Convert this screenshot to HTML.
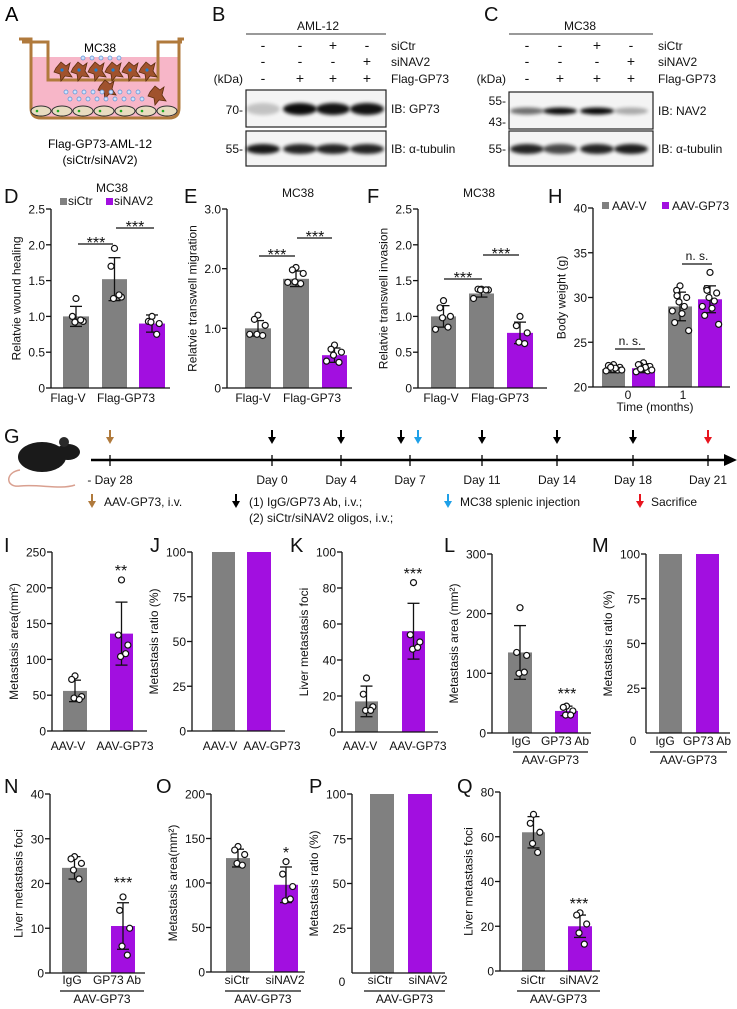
<!DOCTYPE html>
<html><head><meta charset="utf-8">
<style>
html,body{margin:0;padding:0;background:#fff;}
svg{display:block;font-family:"Liberation Sans Narrow","Liberation Sans",sans-serif;}
</style></head>
<body>
<svg id="fig" width="737" height="1009" viewBox="0 0 737 1009" xmlns="http://www.w3.org/2000/svg">
<defs><filter id="blur" x="-30%" y="-100%" width="160%" height="300%"><feGaussianBlur stdDeviation="1.8"/></filter></defs>

<g>
  <text x="5" y="21" font-size="20">A</text>
  <path d="M31,57 L31,108 Q31,118 41,118 L169,118 Q179,118 179,108 L179,57 Z" fill="#f7b6c8"/>
  <path d="M19,39 L31,39 L31,108 Q31,118 41,118 L169,118 Q179,118 179,108 L179,39 L184,39" fill="none" stroke="#b07a3c" stroke-width="3"/>
  <path d="M22,42 L48,42 L48,80 L158,80 L158,42 L182,42" fill="none" stroke="#b07a3c" stroke-width="3"/>
  <text x="100" y="52" font-size="12" text-anchor="middle">MC38</text>
  <g id="cells"></g>
  <text x="100" y="148" font-size="12" text-anchor="middle">Flag-GP73-AML-12</text>
  <text x="100" y="164" font-size="12" text-anchor="middle">(siCtr/siNAV2)</text>
</g>
<g id="blots"></g>
<g id="charts"></g>
<g id="timeline"></g>
</svg>

<script>
const dCats = ["Flag-V", "Flag-GP73"];
const dVals = [1.0, 1.52, 0.9];
const dErr = [0.14, 0.3, 0.12];
const dPts = [[1.25, 1.0, 0.93, 0.92, 0.95], [1.95, 1.7, 1.27, 1.25, 1.3], [1.0, 0.93, 0.9, 0.92, 0.75]];
const dTicks = ["0", "0.5", "1.0", "1.5", "2.0", "2.5"];

const eVals = [1.0, 1.83, 0.55];
const eErr = [0.13, 0.13, 0.12];
const ePts = [[1.22, 1.15, 1.05, 0.9, 0.88, 0.9], [2.02, 1.98, 1.92, 1.78, 1.75, 1.77], [0.72, 0.65, 0.6, 0.55, 0.43, 0.45]];
const eTicks = ["0", "1.0", "2.0", "3.0"];

const fVals = [1.0, 1.32, 0.77];
const fErr = [0.15, 0.05, 0.15];
const fPts = [[1.22, 1.12, 1.0, 0.98, 0.85, 0.82], [1.38, 1.38, 1.37, 1.37, 1.37, 1.25], [1.0, 0.87, 0.77, 0.64, 0.62]];
const fTicks = ["0", "0.5", "1.0", "1.5", "2.0", "2.5"];

const hCats = ["0", "1"];
const hVals = [22.0, 22.1, 29.0, 29.8];
const hErr = [0.4, 0.5, 1.6, 1.5];
const hPts = [
  [22.5, 22.3, 22.2, 22.0, 21.9, 21.8, 22.1, 22.4, 21.9, 22.2],
  [22.7, 22.4, 22.3, 22.1, 21.8, 21.7, 22.2, 22.5, 21.9, 22.0],
  [31.3, 30.8, 30.0, 29.5, 29.0, 28.5, 28.2, 27.2, 26.3, 30.2],
  [32.8, 31.0, 30.5, 30.0, 29.6, 29.0, 28.8, 28.0, 27.0, 30.8]];
const hTicks = ["20", "25", "30", "35", "40"];

const iVals = [56, 136];
const iErr = [15, 44];
const iPts = [[77, 72, 48, 46, 44], [211, 134, 120, 104, 108]];
const iTicks = ["0", "50", "100", "150", "200", "250"];

const ratioVals = [100, 100];
const ratioTicks = ["0", "25", "50", "75", "100"];

const kVals = [17, 56];
const kErr = [8.5, 15.5];
const kPts = [[30, 21, 14, 12, 12], [83, 54, 50, 46, 47]];
const kTicks = ["0", "20", "40", "60", "80", "100"];

const lVals = [135, 37];
const lErr = [45, 8];
const lPts = [[210, 135, 130, 100, 102], [45, 43, 37, 30, 30]];
const lTicks = ["0", "100", "200", "300"];

const nVals = [23.5, 10.5];
const nErr = [2.5, 5.2];
const nPts = [[26, 25.5, 24.5, 23, 21], [17, 14, 10, 6, 4]];
const nTicks = ["0", "10", "20", "30", "40"];

const oVals = [128, 98];
const oErr = [10, 20];
const oPts = [[141, 137, 132, 122, 120], [124, 110, 96, 80, 82]];
const oTicks = ["0", "50", "100", "150", "200"];

const qVals = [62, 20];
const qErr = [7, 5];
const qPts = [[70, 66, 62, 57, 53], [26, 25, 21, 17, 12]];
const qTicks = ["0", "20", "40", "60", "80"];

const GRAY = "#808080", PURP = "#a20fe0";
const NS = "http://www.w3.org/2000/svg";

function mk(parent, tag, attrs, name, inter) {
  const el = document.createElementNS(NS, tag);
  for (const k in attrs) el.setAttribute(k, attrs[k]);
  
  
  parent.appendChild(el);
  return el;
}
function txt(parent, x, y, s, size, anchor, name, extra) {
  const el = mk(parent, 'text', Object.assign({x: x, y: y, 'font-size': size, 'text-anchor': anchor || 'start', fill: '#111'}, extra || {}), name, false);
  el.textContent = s;
  return el;
}

const charts = document.getElementById('charts');

function chart(c) {
  const g = mk(charts, 'g', {}, 'panel-' + c.id, false);
  const yv = v => c.base - (v - c.min) / (c.max - c.min) * (c.base - c.top);
  txt(g, c.lx, c.ly, c.id.toUpperCase(), 20, 'start', 'panel-label-' + c.id);
  c.vals.forEach((v, i) => {
    const b = c.bars[i];
    mk(g, 'rect', {x: b[0], y: yv(v), width: b[1] - b[0], height: c.base - yv(v), fill: c.colors[i]}, 'bar-' + (i + 1), false);
  });
  mk(g, 'line', {x1: c.ax, y1: c.top, x2: c.ax, y2: c.base, stroke: '#111', 'stroke-width': 1.3}, 'y-axis', false);
  mk(g, 'line', {x1: c.ax, y1: c.base, x2: c.xend, y2: c.base, stroke: '#111', 'stroke-width': 1.3}, 'x-axis', false);
  let maxW = 0;
  c.ticks.forEach((t, i) => {
    const v = c.min + i * (c.max - c.min) / (c.ticks.length - 1);
    if (c.skipZero && i === 0) return;
    mk(g, 'line', {x1: c.ax - 5, y1: yv(v), x2: c.ax, y2: yv(v), stroke: '#111', 'stroke-width': 1.3}, 'y-tick', false);
    const tl = txt(g, c.ax - 6, yv(v) + 4.5, t, 12, 'end', 'y-tick-label');
    maxW = Math.max(maxW, tl.getComputedTextLength());
  });
  const tx = c.ax - 6 - maxW - 8;
  const cy = (c.top + c.base) / 2;
  txt(g, tx, cy, c.title, 12, 'middle', 'y-axis-title', {transform: 'rotate(-90 ' + tx + ' ' + cy + ')'});
  if (c.err) c.vals.forEach((v, i) => {
    const b = c.bars[i], cx = (b[0] + b[1]) / 2;
    const y1 = yv(v + c.err[i]), y2 = yv(v - c.err[i]);
    mk(g, 'line', {x1: cx, y1: y1, x2: cx, y2: y2, stroke: '#111', 'stroke-width': 1.3}, 'error-bar', false);
    mk(g, 'line', {x1: cx - 6, y1: y1, x2: cx + 6, y2: y1, stroke: '#111', 'stroke-width': 1.3}, 'error-cap', false);
    mk(g, 'line', {x1: cx - 6, y1: y2, x2: cx + 6, y2: y2, stroke: '#111', 'stroke-width': 1.3}, 'error-cap', false);
  });
  if (c.pts) c.pts.forEach((arr, i) => {
    const b = c.bars[i], cx = (b[0] + b[1]) / 2, w = (b[1] - b[0]) * 0.75, n = arr.length;
    arr.forEach((p, j) => {
      const dx = n > 1 ? (j % 2 ? -1 : 1) * ((j * 37) % 100) / 100 * w / 2 : 0;
      mk(g, 'circle', {cx: cx + dx, cy: yv(p), r: 3, fill: '#fff', stroke: '#111', 'stroke-width': 1.2}, 'data-point', false);
    });
  });
  (c.labels || []).forEach(l => txt(g, l[0], l[1], l[2], 12, 'middle', 'x-tick-label'));
  (c.sig || []).forEach(s => {
    if (s.line) mk(g, 'line', {x1: s.line[0], y1: s.line[2], x2: s.line[1], y2: s.line[2], stroke: '#111', 'stroke-width': 1.3}, 'significance-line', false);
    txt(g, s.x, s.y, s.t, s.t === 'n. s.' ? 12 : 16, 'middle', 'significance-mark');
  });
  if (c.group) {
    mk(g, 'line', {x1: c.group[0], y1: c.group[2], x2: c.group[1], y2: c.group[2], stroke: '#111', 'stroke-width': 1.2}, 'group-line', false);
    txt(g, (c.group[0] + c.group[1]) / 2, c.group[2] + 12, 'AAV-GP73', 12, 'middle', 'group-label');
  }
  return g;
}

const gD = chart({id: 'd', ax: 51, top: 209, base: 388, min: 0, max: 2.5, xend: 170, ticks: dTicks, vals: dVals, err: dErr, pts: dPts,
  bars: [[63, 89], [102, 127], [139, 165]], colors: [GRAY, GRAY, PURP], lx: 4, ly: 203, title: 'Relatvie wound healing',
  labels: [[68, 402, dCats[0]], [126, 402, dCats[1]]],
  sig: [{t: '***', x: 96, y: 248, line: [78, 113, 244]}, {t: '***', x: 135, y: 232, line: [116, 154, 228]}]});
txt(gD, 112, 192, 'MC38', 12, 'middle', 'panel-title');
mk(gD, 'rect', {x: 60, y: 198, width: 7, height: 7, fill: GRAY}, 'legend-swatch-sictr', false);
txt(gD, 68, 205, 'siCtr', 12, 'start', 'legend-entry-sictr');
mk(gD, 'rect', {x: 106, y: 198, width: 7, height: 7, fill: PURP}, 'legend-swatch-sinav2', false);
txt(gD, 114, 205, 'siNAV2', 12, 'start', 'legend-entry-sinav2');

const gE = chart({id: 'e', ax: 227, top: 209, base: 388, min: 0, max: 3, xend: 352, ticks: eTicks, vals: eVals, err: eErr, pts: ePts,
  bars: [[245, 271], [283, 309], [322, 347]], colors: [GRAY, GRAY, PURP], lx: 184, ly: 203, title: 'Relatvie transwell migration',
  labels: [[253, 402, dCats[0]], [312, 402, dCats[1]]],
  sig: [{t: '***', x: 277, y: 260, line: [259, 295, 256]}, {t: '***', x: 315, y: 242, line: [297, 332, 238]}]});
txt(gE, 298, 197, 'MC38', 12, 'middle', 'panel-title');

const gF = chart({id: 'f', ax: 418, top: 209, base: 388, min: 0, max: 2.5, xend: 547, ticks: fTicks, vals: fVals, err: fErr, pts: fPts,
  bars: [[431, 456], [469, 494], [507, 533]], colors: [GRAY, GRAY, PURP], lx: 367, ly: 203, title: 'Relatvie transwell invasion',
  labels: [[441, 402, dCats[0]], [500, 402, dCats[1]]],
  sig: [{t: '***', x: 463, y: 283, line: [444, 482, 279]}, {t: '***', x: 501, y: 259, line: [483, 519, 255]}]});
txt(gF, 479, 197, 'MC38', 12, 'middle', 'panel-title');

const gH = chart({id: 'h', ax: 593, top: 208, base: 387, min: 20, max: 40, xend: 730, ticks: hTicks, vals: hVals, err: hErr, pts: hPts,
  bars: [[602, 625], [632, 655], [668, 692], [698, 722]], colors: [GRAY, PURP, GRAY, PURP], lx: 548, ly: 203, title: 'Body weight (g)',
  labels: [[628, 399, hCats[0]], [683, 399, hCats[1]]],
  sig: [{t: 'n. s.', x: 630, y: 345, line: [615, 645, 349]}, {t: 'n. s.', x: 697, y: 260, line: [682, 712, 264]}]});
txt(gH, 655, 411, 'Time (months)', 12, 'middle', 'x-axis-title');
mk(gH, 'rect', {x: 602, y: 202, width: 7, height: 7, fill: GRAY}, 'legend-swatch-aav-v', false);
txt(gH, 612, 210, 'AAV-V', 12, 'start', 'legend-entry-aav-v');
mk(gH, 'rect', {x: 662, y: 202, width: 7, height: 7, fill: PURP}, 'legend-swatch-aav-gp73', false);
txt(gH, 672, 210, 'AAV-GP73', 12, 'start', 'legend-entry-aav-gp73');

chart({id: 'i', ax: 52, top: 552, base: 731, min: 0, max: 250, xend: 147, ticks: iTicks, vals: iVals, err: iErr, pts: iPts,
  bars: [[63, 87], [110, 133]], colors: [GRAY, PURP], lx: 4, ly: 552, title: 'Metastasis area(mm²)',
  labels: [[68, 750, 'AAV-V'], [125, 750, 'AAV-GP73']], sig: [{t: '**', x: 121, y: 576}]});
chart({id: 'j', ax: 192, top: 552, base: 731, min: 0, max: 100, xend: 285, ticks: ratioTicks, vals: ratioVals,
  bars: [[212, 235], [247, 271]], colors: [GRAY, PURP], lx: 150, ly: 552, title: 'Metastasis ratio (%)',
  labels: [[220, 750, 'AAV-V'], [272, 750, 'AAV-GP73']]});
chart({id: 'k', ax: 342, top: 552, base: 732, min: 0, max: 100, xend: 438, ticks: kTicks, vals: kVals, err: kErr, pts: kPts,
  bars: [[355, 378], [402, 425]], colors: [GRAY, PURP], lx: 290, ly: 552, title: 'Liver metastasis foci',
  labels: [[360, 750, 'AAV-V'], [418, 750, 'AAV-GP73']], sig: [{t: '***', x: 413, y: 579}]});
chart({id: 'l', ax: 492, top: 554, base: 733, min: 0, max: 300, xend: 591, ticks: lTicks, vals: lVals, err: lErr, pts: lPts,
  bars: [[508, 532], [555, 578]], colors: [GRAY, PURP], lx: 444, ly: 552, title: 'Metastasis area (mm²)',
  labels: [[521, 745, 'IgG'], [565, 745, 'GP73 Ab']], sig: [{t: '***', x: 567, y: 699}], group: [513, 588, 752]});
const gM = chart({id: 'm', ax: 646, top: 554, base: 733, min: 0, max: 100, xend: 730, ticks: ratioTicks, vals: ratioVals, skipZero: true,
  bars: [[659, 682], [696, 719]], colors: [GRAY, PURP], lx: 592, ly: 552, title: 'Metastasis ratio (%)',
  labels: [[665, 745, 'IgG'], [707, 745, 'GP73 Ab']], group: [650, 727, 752]});
txt(gM, 633, 745, '0', 12, 'middle', 'y-zero-label');

chart({id: 'n', ax: 50, top: 794, base: 973, min: 0, max: 40, xend: 145, ticks: nTicks, vals: nVals, err: nErr, pts: nPts,
  bars: [[62, 87], [111, 135]], colors: [GRAY, PURP], lx: 4, ly: 793, title: 'Liver metastasis foci',
  labels: [[72, 984, 'IgG'], [117, 984, 'GP73 Ab']], sig: [{t: '***', x: 123, y: 888}], group: [60, 144, 991]});
chart({id: 'o', ax: 211, top: 794, base: 972, min: 0, max: 200, xend: 305, ticks: oTicks, vals: oVals, err: oErr, pts: oPts,
  bars: [[226, 250], [274, 298]], colors: [GRAY, PURP], lx: 156, ly: 793, title: 'Metastasis area(mm²)',
  labels: [[237, 984, 'siCtr'], [285, 984, 'siNAV2']], sig: [{t: '*', x: 286, y: 858}], group: [225, 301, 991]});
const gP = chart({id: 'p', ax: 352, top: 794, base: 973, min: 0, max: 100, xend: 445, ticks: ratioTicks, vals: ratioVals, skipZero: true,
  bars: [[370, 394], [408, 432]], colors: [GRAY, PURP], lx: 309, ly: 793, title: 'Metastasis ratio (%)',
  labels: [[380, 984, 'siCtr'], [428, 984, 'siNAV2']], group: [364, 445, 991]});
txt(gP, 342, 986, '0', 12, 'middle', 'y-zero-label');
chart({id: 'q', ax: 500, top: 792, base: 971, min: 0, max: 80, xend: 600, ticks: qTicks, vals: qVals, err: qErr, pts: qPts,
  bars: [[522, 545], [568, 592]], colors: [GRAY, PURP], lx: 457, ly: 793, title: 'Liver metastasis foci',
  labels: [[533, 984, 'siCtr'], [579, 984, 'siNAV2']], sig: [{t: '***', x: 579, y: 909}], group: [517, 600, 991]});

// Panel A cells
const cells = document.getElementById('cells');
for (let i = 0; i < 7; i++) {
  mk(cells, 'ellipse', {cx: 41 + i * 21, cy: 111, rx: 10, ry: 5, fill: '#e8dcc0', stroke: '#333', 'stroke-width': 1}, 'bottom-cell', false);
  mk(cells, 'circle', {cx: 37 + i * 21, cy: 111, r: 1.3, fill: '#2a2'}, 'cell-nucleus', false);
}
for (let i = 0; i < 6; i++) {
  mk(cells, 'path', {d: 'M' + (56 + i * 17) + ',68 l5,-6 l5,4 l4,-3 l-2,8 l4,6 l-7,-1 l-4,5 l-1,-7 l-6,-2 z', fill: '#a0522d', stroke: '#5a2d0c', 'stroke-width': 0.8}, 'tumor-cell', false);
  mk(cells, 'circle', {cx: 62 + i * 17, cy: 70, r: 1.6, fill: '#1e7fd0'}, 'tumor-nucleus', false);
}
[[100, 86], [150, 92]].forEach(p => mk(cells, 'path', {d: 'M' + p[0] + ',' + p[1] + ' l5,-6 l5,4 l4,-3 l-2,8 l4,6 l-7,-1 l-4,5 l-1,-7 l-6,-2 z', fill: '#a0522d', stroke: '#5a2d0c', 'stroke-width': 0.8}, 'migrated-cell', false));
for (let i = 0; i < 5; i++) mk(cells, 'circle', {cx: 83 + i * 9, cy: 58, r: 2, fill: '#cfe3ff', stroke: '#5b8fd0', 'stroke-width': 0.7}, 'secreted-vesicle', false);
for (let r = 0; r < 2; r++) for (let i = 0; i < 9; i++) mk(cells, 'circle', {cx: 66 + i * 9 + r * 4, cy: 92 + r * 7, r: 2, fill: '#cfe3ff', stroke: '#5b8fd0', 'stroke-width': 0.7}, 'secreted-vesicle', false);

// Blots
const blots = document.getElementById('blots');
function blot(o) {
  const g = mk(blots, 'g', {}, 'panel-' + o.id + '-blot', false);
  txt(g, o.lx, 21, o.id.toUpperCase(), 20, 'start', 'panel-label-' + o.id);
  txt(g, o.hx, 30, o.header, 12, 'middle', 'blot-cell-line');
  mk(g, 'line', {x1: o.x0, y1: 34, x2: o.x1, y2: 34, stroke: '#333', 'stroke-width': 1}, 'header-line', false);
  const rows = [['siCtr', ['-', '-', '+', '-'], 50], ['siNAV2', ['-', '-', '-', '+'], 66], ['Flag-GP73', ['-', '+', '+', '+'], 83]];
  rows.forEach(r => {
    r[1].forEach((s, i) => txt(g, o.cols[i], r[2], s, 14, 'middle', 'treatment-sign'));
    txt(g, o.x1 + 5, r[2], r[0], 12, 'start', 'treatment-label');
  });
  txt(g, o.x0 - 3, 83, '(kDa)', 12, 'end', 'kda-label');
  [[o.b1y, 37], [131, 35]].forEach((b, k) => {
    mk(g, 'rect', {x: o.x0, y: b[0], width: o.x1 - o.x0, height: b[1], fill: '#f4f4f4', stroke: '#222', 'stroke-width': 1.2}, k ? 'tubulin-blot' : 'target-blot', false);
  });
  o.band1.forEach((a, i) => mk(g, 'ellipse', {cx: o.cols[i], cy: o.b1c, rx: 17, ry: o.b1h, fill: '#000', opacity: a, filter: 'url(#blur)'}, 'band', false));
  o.band2.forEach((a, i) => mk(g, 'ellipse', {cx: o.cols[i], cy: 149, rx: 17, ry: 5, fill: '#000', opacity: a, filter: 'url(#blur)'}, 'band', false));
  o.mw.forEach(m => txt(g, o.x0 - 3, m[1] + 4, m[0], 12, 'end', 'mw-marker'));
  txt(g, o.x1 + 5, o.b1c + 4, o.ib, 12, 'start', 'ib-label');
  txt(g, o.x1 + 5, 153, 'IB: α-tubulin', 12, 'start', 'ib-label');
}
blot({id: 'b', lx: 212, hx: 318, header: 'AML-12', x0: 246, x1: 386, cols: [263, 300, 333, 367], b1y: 90, b1c: 109, b1h: 6,
  band1: [0.2, 0.95, 0.92, 0.92], band2: [0.9, 0.85, 0.85, 0.85], mw: [['70-', 110], ['55-', 149]], ib: 'IB: GP73'});
blot({id: 'c', lx: 484, hx: 580, header: 'MC38', x0: 509, x1: 653, cols: [527, 560, 597, 631], b1y: 92, b1c: 111, b1h: 3.5,
  band1: [0.55, 0.95, 0.97, 0.3], band2: [0.85, 0.7, 0.85, 0.88], mw: [['55-', 101], ['43-', 122], ['55-', 149]], ib: 'IB: NAV2'});

// Timeline G
const tl = document.getElementById('timeline');
txt(tl, 4, 443, 'G', 20, 'start', 'panel-label-g');
mk(tl, 'path', {d: 'M20,470 C5,472 5,488 20,486 C40,484 60,490 75,485', fill: 'none', stroke: '#d9a090', 'stroke-width': 1.5}, 'mouse-tail', false);
mk(tl, 'ellipse', {cx: 42, cy: 457, rx: 24, ry: 15, fill: '#1a1a1a'}, 'mouse-body', false);
mk(tl, 'ellipse', {cx: 68, cy: 452, rx: 12, ry: 8, fill: '#1a1a1a'}, 'mouse-head', false);
mk(tl, 'circle', {cx: 64, cy: 442, r: 5, fill: '#2a2a2a'}, 'mouse-ear', false);
mk(tl, 'line', {x1: 91, y1: 460, x2: 728, y2: 460, stroke: '#000', 'stroke-width': 2.5}, 'timeline-axis', false);
mk(tl, 'path', {d: 'M724,454 L737,460 L724,466 Z', fill: '#000'}, 'timeline-arrowhead', false);
const days = [['- Day 28', 110], ['Day 0', 272], ['Day 4', 341], ['Day 7', 410], ['Day 11', 482], ['Day 14', 557], ['Day 18', 633], ['Day 21', 708]];
days.forEach(d => {
  mk(tl, 'line', {x1: d[1], y1: 455, x2: d[1], y2: 466, stroke: '#000', 'stroke-width': 1.3}, 'day-tick', false);
  txt(tl, d[1], 484, d[0], 12, 'middle', 'day-label');
});
function arrow(x, y, col, name) {
  const g = mk(tl, 'g', {}, name, false);
  mk(g, 'line', {x1: x, y1: y, x2: x, y2: y + 9, stroke: col, 'stroke-width': 2}, 'arrow-shaft', false);
  mk(g, 'path', {d: 'M' + (x - 4) + ',' + (y + 7) + ' L' + (x + 4) + ',' + (y + 7) + ' L' + x + ',' + (y + 14) + ' Z', fill: col}, 'arrow-head', false);
}
const BR = '#b07a3c', CY = '#1ea0e8', RD = '#e8141e';
arrow(110, 430, BR, 'aav-arrow');
[272, 341, 401, 482, 557, 633].forEach(x => arrow(x, 430, '#000', 'treatment-arrow'));
arrow(418, 430, CY, 'injection-arrow');
arrow(708, 430, RD, 'sacrifice-arrow');
arrow(92, 494, BR, 'legend-arrow-aav');
txt(tl, 104, 506, 'AAV-GP73, i.v.', 12, 'start', 'legend-aav');
arrow(236, 494, '#000', 'legend-arrow-treatment');
txt(tl, 249, 506, '(1) IgG/GP73 Ab, i.v.;', 12, 'start', 'legend-treatment-1');
txt(tl, 249, 522, '(2) siCtr/siNAV2 oligos, i.v.;', 12, 'start', 'legend-treatment-2');
arrow(448, 494, CY, 'legend-arrow-injection');
txt(tl, 460, 506, 'MC38 splenic injection', 12, 'start', 'legend-injection');
arrow(640, 494, RD, 'legend-arrow-sacrifice');
txt(tl, 651, 506, 'Sacrifice', 12, 'start', 'legend-sacrifice');
</script>
</body></html>
